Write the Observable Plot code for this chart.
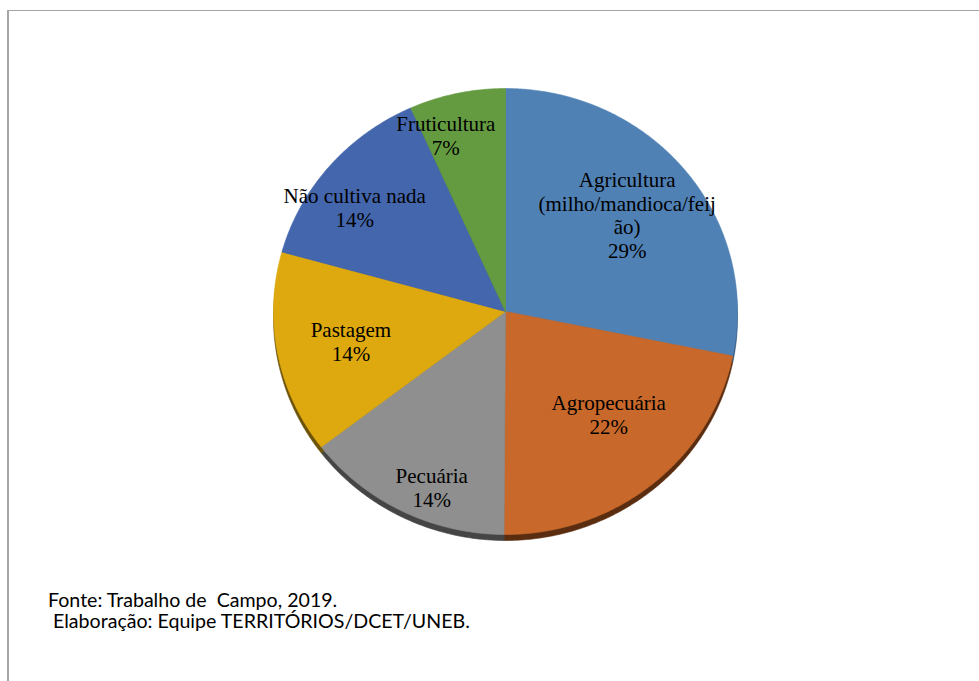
<!DOCTYPE html>
<html>
<head>
<meta charset="utf-8">
<script src="https://cdn.jsdelivr.net/npm/d3@7"></script>
<script src="https://cdn.jsdelivr.net/npm/@observablehq/plot@0.6"></script>
<style>
  html, body { margin: 0; padding: 0; background: #fff; overflow: hidden; }
  #chart { position: absolute; left: 0; top: 0; }
  #frame { position: absolute; left: 7px; top: 10px; right: -5px; bottom: -5px;
           border-top: 1px solid #a6a6a6; border-left: 2px solid #a6a6a6; pointer-events: none; }
  #caption { position: absolute; left: 48px; top: 589px; font-family: Lato, "Open Sans", sans-serif;
             font-size: 19.6px; line-height: 21px; color: #000; white-space: pre; }
</style>
</head>
<body>
<div id="chart"></div>
<div id="caption"><div>Fonte: Trabalho de  Campo, 2019.</div><div> Elaboração: Equipe TERRITÓRIOS/DCET/UNEB.</div></div>
<div id="frame"></div>
<script>
// ---- data ----
const categories = [
  "Agricultura\n(milho/mandioca/feij\não)",
  "Agropecuária",
  "Pecuária",
  "Pastagem",
  "Não cultiva nada",
  "Fruticultura"
];
const shares = [28.2, 21.9, 14.5, 14.7, 14.0, 6.7];
// percentage labels as printed on the chart
const pctLabels = ["29%", "22%", "14%", "14%", "14%", "7%"];

// ---- styles / layout ----
const colors    = ["#5081b5", "#c8692b", "#8f8f8f", "#dda90f", "#4466ad", "#649a40"];
const rimColors = ["#2e4d72", "#5a2d10", "#454545", "#6b5208", "#28396b", "#3a5a24"];
const labelRadius = [0.68, 0.64, 0.85, 0.68, 0.80, 0.83];
const labelTurnDeg = [-0.3, -5, -4.5, -0.5, -5, -6];

const rows = categories.map((name, i) => ({i, name, share: shares[i], pct: pctLabels[i]}));
const arcs = d3.pie().sort(null).value(d => d.share).startAngle(0).endAngle(2 * Math.PI)(rows);

// slice outlines in unit-circle coordinates (angle 0 at top, clockwise)
const poly = [];
arcs.forEach(a => {
  const i = a.data.i;
  poly.push({i, x: 0, y: 0});
  const n = Math.max(2, Math.ceil((a.endAngle - a.startAngle) / (Math.PI / 360)));
  for (let k = 0; k <= n; ++k) {
    const t = a.startAngle + (a.endAngle - a.startAngle) * k / n;
    poly.push({i, x: Math.sin(t), y: Math.cos(t)});
  }
  poly.push({i, x: 0, y: 0});
});

const labels = arcs.map(a => {
  const i = a.data.i;
  const t = (a.startAngle + a.endAngle) / 2 + labelTurnDeg[i] * Math.PI / 180;
  return {i, x: labelRadius[i] * Math.sin(t), y: labelRadius[i] * Math.cos(t),
          text: a.data.name + "\n" + a.data.pct};
});

const plot = Plot.plot({
  width: 979,
  height: 580,
  margin: 0,
  style: {background: "transparent"},
  x: {domain: [-1, 1], range: [273, 737], axis: null},
  y: {domain: [-1, 1], range: [534, 88], axis: null},
  color: {type: "identity"},
  marks: [
    Plot.line(poly, {x: "x", y: "y", z: "i", dy: 6, curve: "linear",
      fill: d => rimColors[d.i], stroke: d => rimColors[d.i], strokeWidth: 0.6}),
    Plot.line(poly, {x: "x", y: "y", z: "i", curve: "linear",
      fill: d => colors[d.i], stroke: d => colors[d.i], strokeWidth: 0.6}),
    Plot.text(labels, {x: "x", y: "y", text: "text", fill: "#000",
      fontFamily: "Liberation Serif, Times New Roman, serif", fontSize: 21, lineHeight: 1.13})
  ]
});
document.getElementById("chart").appendChild(plot);
</script>
</body>
</html>
